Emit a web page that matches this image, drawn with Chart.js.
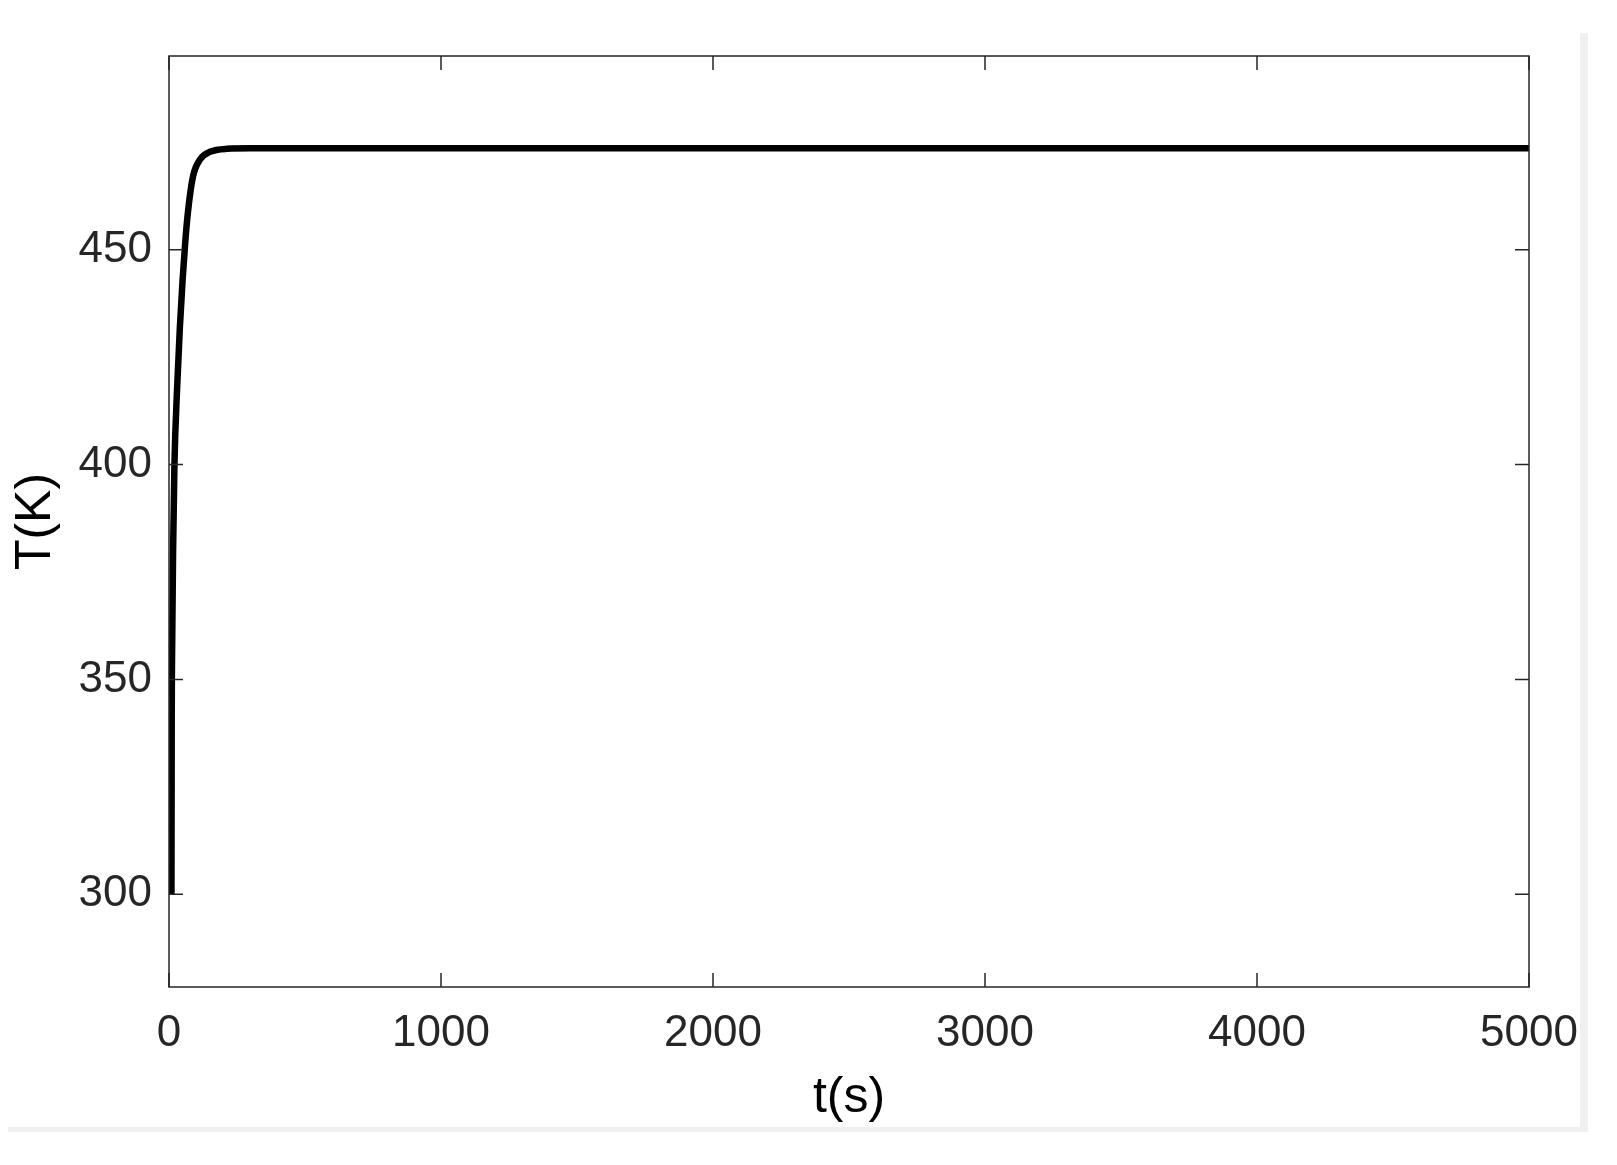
<!DOCTYPE html>
<html>
<head>
<meta charset="utf-8">
<script src="https://cdn.jsdelivr.net/npm/chart.js@4.4.1/dist/chart.umd.min.js"></script>
<style>
  body { margin: 0; background: #fff; }
  #wrap { position: relative; width: 1617px; height: 1165px; }
  .shade { position: absolute; background: #f0f0f0; }
  canvas { position: absolute; left: 0; top: 0; }
</style>
</head>
<body>
<div id="wrap">
  <div class="shade" style="left:1580px;top:33px;width:8px;height:1099px"></div>
  <div class="shade" style="left:8px;top:1127px;width:1580px;height:5px"></div>
  <canvas id="myChart" width="1617" height="1165"></canvas>
</div>
<script>
var timeValues = [9, 10, 12, 15, 20, 30, 40, 50, 60, 70, 88, 114, 151, 213, 300, 1000, 2000, 3000, 4000, 5000];
var tempValues = [300, 340, 360, 380, 400, 418, 432, 443, 452, 459, 467, 471, 472.8, 473.5, 473.6, 473.6, 473.6, 473.6, 473.6, 473.6];
var xTicks = [0, 1000, 2000, 3000, 4000, 5000];
var yTicks = [300, 350, 400, 450];

var points = timeValues.map(function (t, i) { return { x: t, y: tempValues[i] }; });
var axisColor = '#262626';

// MATLAB-style box with inward ticks on all four sides
var boxPlugin = {
  id: 'box',
  afterDraw: function (chart) {
    var ctx = chart.ctx, a = chart.chartArea;
    var xs = chart.scales.x, ys = chart.scales.y;
    var len = 14;
    ctx.save();
    ctx.strokeStyle = axisColor;
    ctx.lineWidth = 1.5;
    ctx.strokeRect(a.left, a.top, a.right - a.left, a.bottom - a.top);
    ctx.beginPath();
    xTicks.forEach(function (v) {
      var px = xs.getPixelForValue(v);
      ctx.moveTo(px, a.bottom); ctx.lineTo(px, a.bottom - len);
      ctx.moveTo(px, a.top); ctx.lineTo(px, a.top + len);
    });
    yTicks.forEach(function (v) {
      var py = ys.getPixelForValue(v);
      ctx.moveTo(a.left, py); ctx.lineTo(a.left + len, py);
      ctx.moveTo(a.right, py); ctx.lineTo(a.right - len, py);
    });
    ctx.stroke();
    ctx.restore();
  }
};

var config = {
  type: 'line',
  data: {
    datasets: [{
      data: points,
      borderColor: '#000',
      borderWidth: 6.5,
      pointRadius: 0,
      fill: false,
      cubicInterpolationMode: 'monotone'
    }]
  },
  options: {
    responsive: false,
    animation: false,
    layout: { padding: { left: 0, top: 56, right: 88, bottom: 0 } },
    plugins: { legend: { display: false }, tooltip: { enabled: false } },
    scales: {
      x: {
        type: 'linear',
        min: 0,
        max: 5000,
        afterBuildTicks: function (scale) { scale.ticks = xTicks.map(function (v) { return { value: v }; }); },
        afterFit: function (scale) { scale.height = 178; },
        grid: { display: false, drawTicks: false },
        border: { display: false },
        ticks: {
          padding: 20,
          maxRotation: 0,
          color: axisColor,
          font: { family: 'Liberation Sans', size: 44 },
          callback: function (v) { return String(v); }
        },
        title: {
          display: true,
          text: 't(s)',
          color: '#000',
          font: { family: 'Liberation Sans', size: 50 },
          padding: { top: 0, bottom: 37 }
        }
      },
      y: {
        type: 'linear',
        min: 278.4,
        max: 495.1,
        afterBuildTicks: function (scale) { scale.ticks = yTicks.map(function (v) { return { value: v }; }); },
        afterFit: function (scale) { scale.width = 169; },
        grid: { display: false, drawTicks: false },
        border: { display: false },
        ticks: {
          padding: 17,
          color: axisColor,
          font: { family: 'Liberation Sans', size: 44 },
          callback: function (v) { return String(v); }
        },
        title: {
          display: true,
          text: 'T(K)',
          color: '#000',
          font: { family: 'Liberation Sans', size: 50 },
          padding: { top: 6, bottom: 0 }
        }
      }
    }
  },
  plugins: [boxPlugin]
};
var myChart = new Chart(document.getElementById('myChart'), config);
</script>
</body>
</html>
